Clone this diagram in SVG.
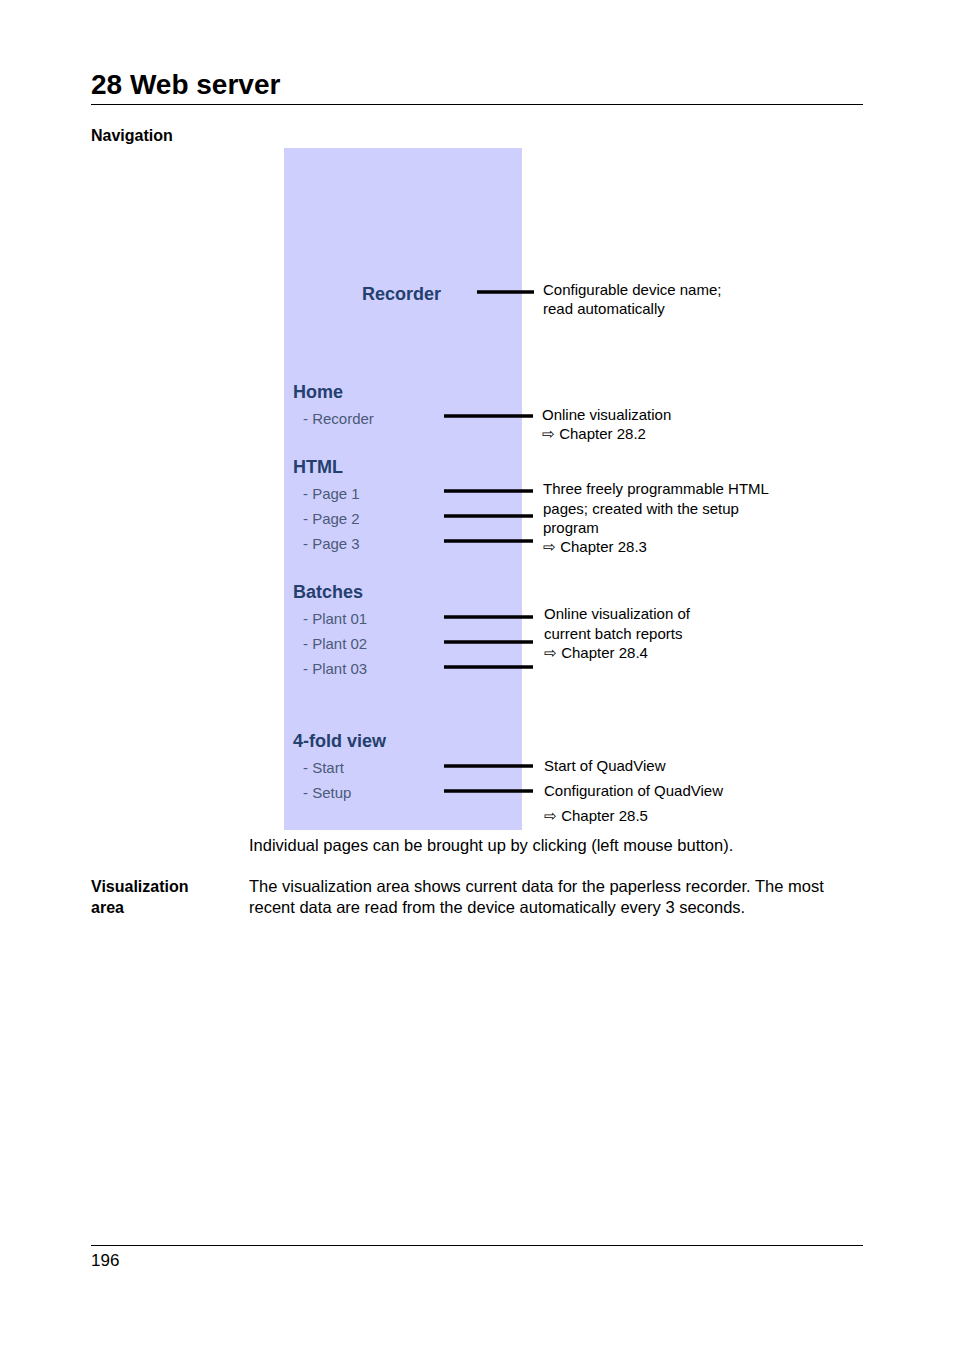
<svg xmlns="http://www.w3.org/2000/svg" width="954" height="1350" viewBox="0 0 954 1350">
<style>
text{font-family:"Liberation Sans",Arial,sans-serif;fill:#000}
.t{font-size:15px}
.h{font-size:18px;font-weight:bold;fill:#23406e}
.i{font-size:15px;fill:#4a5a78}
.ln{stroke:#000;stroke-width:3.5}
</style>
<rect width="954" height="1350" fill="#fff"/>
<text x="91" y="94" font-size="28" font-weight="bold">28 Web server</text>
<line x1="91" y1="104.5" x2="863" y2="104.5" stroke="#000" stroke-width="1"/>
<text x="91" y="141" font-size="16" font-weight="bold">Navigation</text>
<g id="panel">
<rect x="284" y="148" width="238" height="682" fill="#cfcffe"/>
<text class="h" x="362" y="300">Recorder</text>
<text class="h" x="293" y="398">Home</text>
<text class="i" x="303" y="424">- Recorder</text>
<text class="h" x="293" y="473">HTML</text>
<text class="i" x="303" y="499">- Page 1</text>
<text class="i" x="303" y="524">- Page 2</text>
<text class="i" x="303" y="549">- Page 3</text>
<text class="h" x="293" y="598">Batches</text>
<text class="i" x="303" y="624">- Plant 01</text>
<text class="i" x="303" y="649">- Plant 02</text>
<text class="i" x="303" y="674">- Plant 03</text>
<text class="h" x="293" y="747">4-fold view</text>
<text class="i" x="303" y="773">- Start</text>
<text class="i" x="303" y="798">- Setup</text>
</g>
<g id="connectors">
<line class="ln" x1="477" y1="292" x2="534" y2="292"/>
<line class="ln" x1="444" y1="416" x2="533" y2="416"/>
<line class="ln" x1="444" y1="491" x2="533" y2="491"/>
<line class="ln" x1="444" y1="516" x2="533" y2="516"/>
<line class="ln" x1="444" y1="541" x2="533" y2="541"/>
<line class="ln" x1="444" y1="617" x2="533" y2="617"/>
<line class="ln" x1="444" y1="642" x2="533" y2="642"/>
<line class="ln" x1="444" y1="667" x2="533" y2="667"/>
<line class="ln" x1="444" y1="766" x2="533" y2="766"/>
<line class="ln" x1="444" y1="791" x2="533" y2="791"/>
</g>
<g id="notes">
<text class="t" x="543" y="295">Configurable device name;</text>
<text class="t" x="543" y="314">read automatically</text>
<text class="t" x="542" y="420">Online visualization</text>
<text class="t" x="542" y="439">⇨  Chapter 28.2</text>
<text class="t" x="543" y="494">Three freely programmable HTML</text>
<text class="t" x="543" y="514">pages; created with the setup</text>
<text class="t" x="543" y="533">program</text>
<text class="t" x="543" y="552">⇨  Chapter 28.3</text>
<text class="t" x="544" y="619">Online visualization of</text>
<text class="t" x="544" y="639">current batch reports</text>
<text class="t" x="544" y="658">⇨  Chapter 28.4</text>
<text class="t" x="544" y="771">Start of QuadView</text>
<text class="t" x="544" y="796">Configuration of QuadView</text>
<text class="t" x="544" y="821">⇨  Chapter 28.5</text>
</g>
<text x="249" y="851" font-size="16.5">Individual pages can be brought up by clicking (left mouse button).</text>
<text x="91" y="892" font-size="16" font-weight="bold">Visualization</text>
<text x="91" y="913" font-size="16" font-weight="bold">area</text>
<text x="249" y="892" font-size="16.5">The visualization area shows current data for the paperless recorder. The most</text>
<text x="249" y="913" font-size="16.5">recent data are read from the device automatically every 3 seconds.</text>
<line x1="91" y1="1245.5" x2="863" y2="1245.5" stroke="#000" stroke-width="1"/>
<text x="91" y="1266" font-size="17">196</text>
</svg>
